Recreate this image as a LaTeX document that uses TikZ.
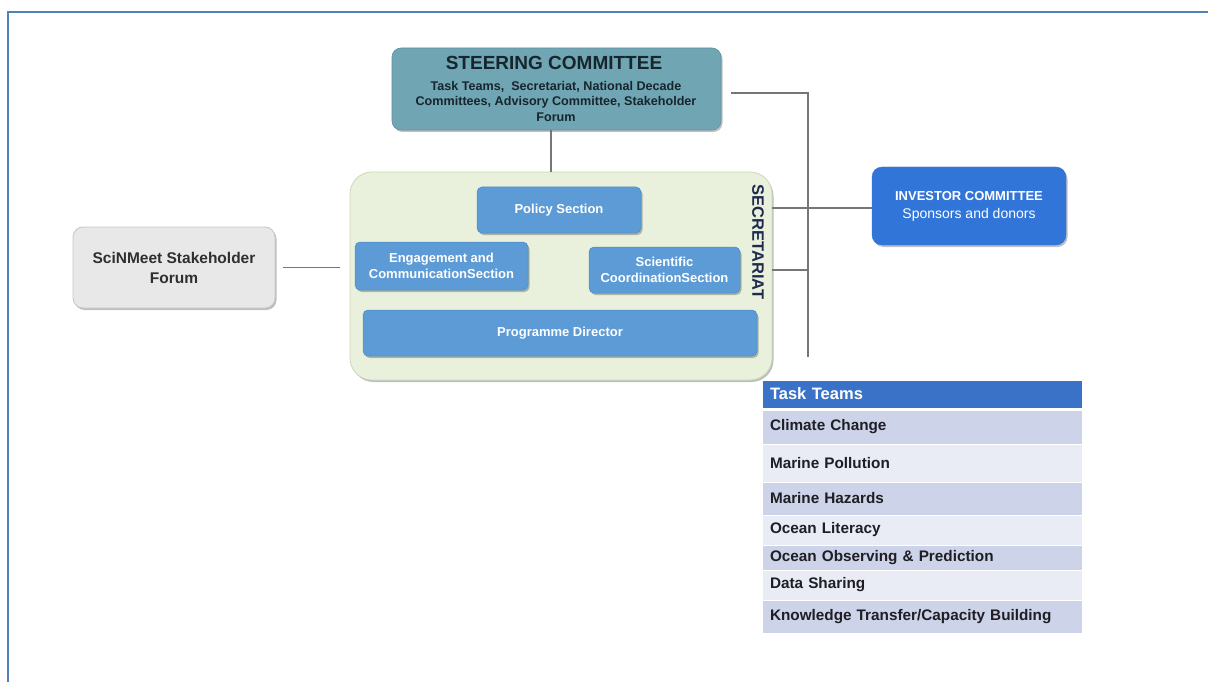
\documentclass[tikz,border=0pt]{standalone}
\usepackage{fontspec}
\setmainfont{Liberation Sans}
\usetikzlibrary{shadows}
\definecolor{frameblue}{HTML}{4F81BD}
\definecolor{steerfill}{HTML}{70A5B4}
\definecolor{steerdraw}{HTML}{5E909E}
\definecolor{steertext}{HTML}{16262C}
\definecolor{secfill}{HTML}{E9F1DC}
\definecolor{secdraw}{HTML}{CBD9B6}
\definecolor{secfont}{HTML}{1E2B4E}
\definecolor{secblue}{HTML}{5C9BD6}
\definecolor{secbluedraw}{HTML}{4F8BC6}
\definecolor{sinfill}{HTML}{E8E8E8}
\definecolor{sindraw}{HTML}{C6C6C6}
\definecolor{sintext}{HTML}{2F2F2F}
\definecolor{invfill}{HTML}{3275D9}
\definecolor{headfill}{HTML}{3A72C8}
\definecolor{rowdark}{HTML}{CDD3E8}
\definecolor{rowlight}{HTML}{E9ECF5}
\definecolor{rowtext}{HTML}{1E1E24}
\definecolor{linkgray}{HTML}{767676}
\tikzset{
  every node/.style={inner sep=0pt},
  boxshadow/.style={drop shadow={shadow xshift=1.5pt, shadow yshift=-2pt, opacity=0.25, fill=black}},
  steerbox/.style={rounded corners=9pt, fill=steerfill, draw=steerdraw, line width=0.6pt, boxshadow, align=center, text=steertext},
  secbox/.style={rounded corners=22pt, fill=secfill, draw=secdraw, line width=0.8pt, boxshadow},
  sectionbox/.style={rounded corners=5pt, fill=secblue, draw=secbluedraw, line width=0.5pt, boxshadow, align=center, text=white, font=\fontsize{13}{16}\selectfont\bfseries},
  greybox/.style={rounded corners=10pt, fill=sinfill, draw=sindraw, line width=0.8pt, boxshadow, align=center, text=sintext, font=\fontsize{15.5}{20}\selectfont\bfseries},
  invbox/.style={rounded corners=10pt, fill=invfill, draw=invfill, boxshadow, align=center, text=white},
  rowbox/.style={minimum width=320pt, text width=304pt, inner xsep=8pt, align=left, draw=white, line width=1pt, text=rowtext, font=\fontsize{15.3}{17}\selectfont\bfseries},
  link/.style={draw=linkgray, line width=1.8pt},
}
\begin{document}
\begin{tikzpicture}[x=1pt,y=-1pt]
\useasboundingbox (0,0) rectangle (1208,682);
\fill[white] (0,0) rectangle (1208,682);
% frame
\draw[frameblue, line width=2.5pt] (8,682) -- (8,12) -- (1208,12);

% steering committee
\node[steerbox, minimum width=329pt, minimum height=82pt] (steer) at (556.5,89) {};
\node[text=steertext, font=\fontsize{19}{21}\selectfont\bfseries] (steert) at (554,63) {STEERING COMMITTEE};
\node[text=steertext, align=center, font=\fontsize{12.6}{15.5}\selectfont\bfseries] (steers) at (556,101) {Task Teams,\ \ Secretariat, National Decade\\Committees, Advisory Committee, Stakeholder\\Forum};

% secretariat
\node[secbox, minimum width=422pt, minimum height=208pt] (sec) at (561,276) {};
\node[rotate=-90, text=secfont, font=\fontsize{16.5}{18}\selectfont\bfseries] (seclab) at (758,242) {SECRETARIAT};
\node[sectionbox, minimum width=164pt, minimum height=46pt] (policy) at (559,210) {Policy Section};
\node[sectionbox, minimum width=173pt, minimum height=48pt] (engage) at (441.5,266) {Engagement and\\CommunicationSection};
\node[sectionbox, minimum width=151pt, minimum height=46pt] (scient) at (664.5,270) {Scientific\\CoordinationSection};
\node[sectionbox, minimum width=394pt, minimum height=46pt] (progdir) at (560,333) {Programme Director};

% stakeholder forum
\node[greybox, minimum width=202pt, minimum height=81pt] (forum) at (174,267.5) {SciNMeet Stakeholder\\Forum};

% investor committee
\node[invbox, minimum width=194pt, minimum height=78pt, font=\fontsize{13}{18}\selectfont] (inv) at (969,206) {\textbf{INVESTOR COMMITTEE}\\{\fontsize{14}{18}\selectfont Sponsors and donors}};

% connectors
\coordinate (bustop) at (808,93);
\coordinate (busbot) at (808,357);
\draw[link] (steer.south -| 551,0) -- (sec.north -| 551,0);
\draw[link] ([xshift=10pt]steer.east |- bustop) -- (bustop) -- (busbot);
\draw[link] (sec.east |- 0,208) -- (inv.west |- 0,208);
\draw[link] (sec.east |- 0,270) -- (busbot |- 0,270);
\draw[link] ([xshift=8pt]forum.east) -- ([xshift=-10pt]sec.west |- forum.east);

% task teams table
\node[rowbox, fill=headfill, text=white, minimum height=28pt, font=\fontsize{16.5}{18}\selectfont\bfseries] (tthead) at (922,394) {Task Teams};
\node[rowbox, fill=rowdark, minimum height=34pt] (tt1) at (922,427) {Climate Change};
\node[rowbox, fill=rowlight, minimum height=38pt] (tt2) at (922,463) {Marine Pollution};
\node[rowbox, fill=rowdark, minimum height=33pt] (tt3) at (922,498.5) {Marine Hazards};
\node[rowbox, fill=rowlight, minimum height=30pt] (tt4) at (922,530) {Ocean Literacy};
\node[rowbox, fill=rowdark, minimum height=25pt] (tt5) at (922,557.5) {Ocean Observing \& Prediction};
\node[rowbox, fill=rowlight, minimum height=30pt] (tt6) at (922,585) {Data Sharing};
\node[rowbox, fill=rowdark, minimum height=33pt] (tt7) at (922,616.5) {Knowledge Transfer/Capacity Building};
\end{tikzpicture}
\end{document}
